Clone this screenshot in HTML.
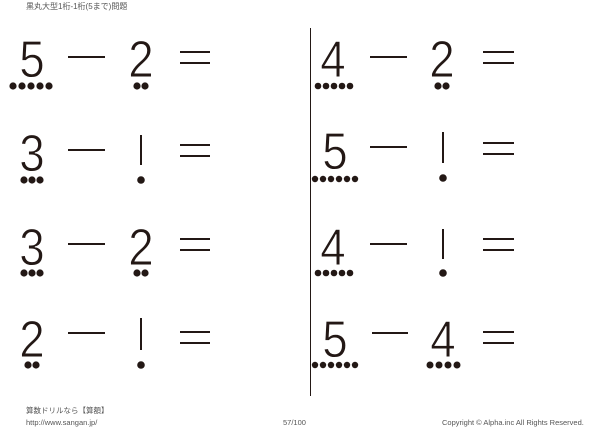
<!DOCTYPE html>
<html><head><meta charset="utf-8"><style>
html,body{margin:0;padding:0;background:#fff;}
svg{display:block;}
.d{stroke:#fff;stroke-width:0.9px;paint-order:normal;}
</style></head><body>
<svg width="600" height="429" viewBox="0 0 600 429" xmlns="http://www.w3.org/2000/svg">
<rect width="600" height="429" fill="#fff"/>
<text x="26" y="9" font-family="Liberation Sans, Noto Sans CJK JP, sans-serif" font-size="8" fill="#555">黒丸大型1桁-1桁(5まで)問題</text>
<line x1="310.5" y1="28" x2="310.5" y2="396" stroke="#231815" stroke-width="1"/>
<g fill="#231815" stroke="#231815" font-family="Liberation Sans, sans-serif" font-size="52">
<!-- row 1 -->
<text class="d" x="32" y="77" text-anchor="middle" transform="translate(32 0) scale(0.88 1) translate(-32 0)">5</text>
<g stroke="none"><circle cx="13" cy="86" r="3.6"/><circle cx="22" cy="86" r="3.6"/><circle cx="31" cy="86" r="3.6"/><circle cx="40" cy="86" r="3.6"/><circle cx="49" cy="86" r="3.6"/></g>
<line x1="68" y1="57" x2="105" y2="57" stroke-width="2"/>
<text class="d" x="141" y="77" text-anchor="middle" transform="translate(141 0) scale(0.88 1) translate(-141 0)">2</text>
<g stroke="none"><circle cx="137" cy="86" r="3.6"/><circle cx="145" cy="86" r="3.6"/></g>
<line x1="180" y1="52" x2="210" y2="52" stroke-width="2"/><line x1="180" y1="63" x2="210" y2="63" stroke-width="2"/>

<text class="d" x="333" y="77" text-anchor="middle" transform="translate(333 0) scale(0.88 1) translate(-333 0)">4</text>
<g stroke="none"><circle cx="318" cy="86" r="3.3"/><circle cx="326" cy="86" r="3.3"/><circle cx="334" cy="86" r="3.3"/><circle cx="342" cy="86" r="3.3"/><circle cx="350" cy="86" r="3.3"/></g>
<line x1="370" y1="57" x2="407" y2="57" stroke-width="2"/>
<text class="d" x="442" y="77" text-anchor="middle" transform="translate(442 0) scale(0.88 1) translate(-442 0)">2</text>
<g stroke="none"><circle cx="438" cy="86" r="3.6"/><circle cx="446" cy="86" r="3.6"/></g>
<line x1="483" y1="52" x2="514" y2="52" stroke-width="2"/><line x1="483" y1="63" x2="514" y2="63" stroke-width="2"/>

<!-- row 2 -->
<text class="d" x="32" y="171" text-anchor="middle" transform="translate(32 0) scale(0.88 1) translate(-32 0)">3</text>
<g stroke="none"><circle cx="24" cy="180" r="3.6"/><circle cx="32" cy="180" r="3.6"/><circle cx="40" cy="180" r="3.6"/></g>
<line x1="68" y1="150" x2="105" y2="150" stroke-width="2"/>
<line x1="141" y1="135" x2="141" y2="165" stroke-width="2"/>
<circle cx="141" cy="180" r="3.8" stroke="none"/>
<line x1="180" y1="145" x2="210" y2="145" stroke-width="2"/><line x1="180" y1="156" x2="210" y2="156" stroke-width="2"/>

<text class="d" x="335" y="169" text-anchor="middle" transform="translate(335 0) scale(0.88 1) translate(-335 0)">5</text>
<g stroke="none"><circle cx="315" cy="179" r="3.2"/><circle cx="323" cy="179" r="3.2"/><circle cx="331" cy="179" r="3.2"/><circle cx="339" cy="179" r="3.2"/><circle cx="347" cy="179" r="3.2"/><circle cx="355" cy="179" r="3.2"/></g>
<line x1="370" y1="147" x2="407" y2="147" stroke-width="2"/>
<line x1="443" y1="132" x2="443" y2="163" stroke-width="2"/>
<circle cx="443" cy="178" r="3.8" stroke="none"/>
<line x1="483" y1="143" x2="514" y2="143" stroke-width="2"/><line x1="483" y1="154" x2="514" y2="154" stroke-width="2"/>

<!-- row 3 -->
<text class="d" x="32" y="265" text-anchor="middle" transform="translate(32 0) scale(0.88 1) translate(-32 0)">3</text>
<g stroke="none"><circle cx="24" cy="273" r="3.6"/><circle cx="32" cy="273" r="3.6"/><circle cx="40" cy="273" r="3.6"/></g>
<line x1="68" y1="244" x2="105" y2="244" stroke-width="2"/>
<text class="d" x="141" y="265" text-anchor="middle" transform="translate(141 0) scale(0.88 1) translate(-141 0)">2</text>
<g stroke="none"><circle cx="137" cy="273" r="3.6"/><circle cx="145" cy="273" r="3.6"/></g>
<line x1="180" y1="239" x2="210" y2="239" stroke-width="2"/><line x1="180" y1="250" x2="210" y2="250" stroke-width="2"/>

<text class="d" x="333" y="265" text-anchor="middle" transform="translate(333 0) scale(0.88 1) translate(-333 0)">4</text>
<g stroke="none"><circle cx="318" cy="273" r="3.3"/><circle cx="326" cy="273" r="3.3"/><circle cx="334" cy="273" r="3.3"/><circle cx="342" cy="273" r="3.3"/><circle cx="350" cy="273" r="3.3"/></g>
<line x1="370" y1="244" x2="407" y2="244" stroke-width="2"/>
<line x1="443" y1="229" x2="443" y2="259" stroke-width="2"/>
<circle cx="443" cy="273" r="3.8" stroke="none"/>
<line x1="483" y1="239" x2="514" y2="239" stroke-width="2"/><line x1="483" y1="250" x2="514" y2="250" stroke-width="2"/>

<!-- row 4 -->
<text class="d" x="32" y="357" text-anchor="middle" transform="translate(32 0) scale(0.88 1) translate(-32 0)">2</text>
<g stroke="none"><circle cx="28" cy="365" r="3.6"/><circle cx="36" cy="365" r="3.6"/></g>
<line x1="68" y1="333" x2="105" y2="333" stroke-width="2"/>
<line x1="141" y1="318" x2="141" y2="350" stroke-width="2"/>
<circle cx="141" cy="365" r="3.8" stroke="none"/>
<line x1="180" y1="332" x2="210" y2="332" stroke-width="2"/><line x1="180" y1="343" x2="210" y2="343" stroke-width="2"/>

<text class="d" x="335" y="357" text-anchor="middle" transform="translate(335 0) scale(0.88 1) translate(-335 0)">5</text>
<g stroke="none"><circle cx="315" cy="365" r="3.2"/><circle cx="323" cy="365" r="3.2"/><circle cx="331" cy="365" r="3.2"/><circle cx="339" cy="365" r="3.2"/><circle cx="347" cy="365" r="3.2"/><circle cx="355" cy="365" r="3.2"/></g>
<line x1="372" y1="333" x2="408" y2="333" stroke-width="2"/>
<text class="d" x="443" y="357" text-anchor="middle" transform="translate(443 0) scale(0.88 1) translate(-443 0)">4</text>
<g stroke="none"><circle cx="430" cy="365" r="3.5"/><circle cx="439" cy="365" r="3.5"/><circle cx="448" cy="365" r="3.5"/><circle cx="457" cy="365" r="3.5"/></g>
<line x1="483" y1="332" x2="514" y2="332" stroke-width="2"/><line x1="483" y1="343" x2="514" y2="343" stroke-width="2"/>
</g>
<g font-family="Liberation Sans, Noto Sans CJK JP, sans-serif" font-size="7.5" fill="#555">
<text x="26" y="413">算数ドリルなら【算額】</text>
<text x="26" y="425">http://www.sangan.jp/</text>
<text x="283" y="425">57/100</text>
<text x="442" y="425">Copyright © Alpha.inc All Rights Reserved.</text>
</g>
</svg>
</body></html>
